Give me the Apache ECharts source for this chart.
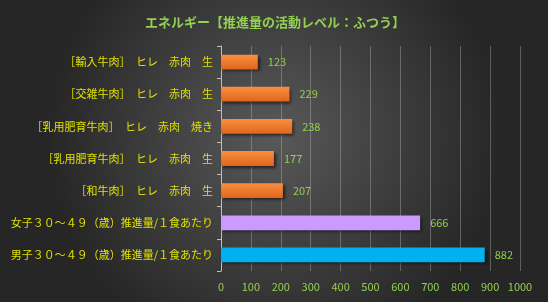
<!DOCTYPE html>
<html><head><meta charset="utf-8">
<script src="https://cdn.jsdelivr.net/npm/echarts@6/dist/echarts.min.js"></script>
<style>html,body{margin:0;padding:0;background:#3a3a3a;}#c{width:548px;height:302px;}</style>
</head><body><div id="c"></div>
<script>
var titleText = 'エネルギー【推進量の活動レベル：ふつう】';
var categories = [
  '［輸入牛肉］　ヒレ　赤肉　生',
  '［交雑牛肉］　ヒレ　赤肉　生',
  '［乳用肥育牛肉］　ヒレ　赤肉　焼き',
  '［乳用肥育牛肉］　ヒレ　赤肉　生',
  '［和牛肉］　ヒレ　赤肉　生',
  '女子３０～４９（歳）推進量/１食あたり',
  '男子３０～４９（歳）推進量/１食あたり'
];
var values = [123, 229, 238, 177, 207, 666, 882];
var xMin = 0, xMax = 1000, xStep = 100;

var orange = new echarts.graphic.LinearGradient(0,0,0,1,[{offset:0,color:'#f79040'},{offset:1,color:'#e2651c'}]);
var colors = [orange, orange, orange, orange, orange, '#cc99ff', '#00b0f0'];

var chart = echarts.init(document.getElementById('c'), null, {renderer:'canvas'});
chart.setOption({
  backgroundColor: new echarts.graphic.RadialGradient(0.5,0.45,0.75,[{offset:0,color:'#595959'},{offset:1,color:'#262626'}]),
  title: {text: titleText, left: 270, textAlign: 'center', top: 11,
    textStyle: {color:'#92d050', fontSize: 13, fontWeight:'bold', fontFamily:'Noto Sans CJK JP'}},
  grid: {left: 221, right: 28, top: 46, bottom: 31},
  xAxis: {type:'value', min:xMin, max:xMax, interval:xStep,
    axisLine:{show:false}, axisTick:{show:false},
    axisLabel:{color:'#92d050', fontSize:11, margin:10, fontFamily:'Noto Sans CJK JP',
      formatter:function(v){return String(v);}},
    splitLine:{show:true, lineStyle:{color:'rgba(200,200,200,0.35)', width:1}}},
  yAxis: {type:'category', data:categories, inverse:true,
    axisLine:{show:true, lineStyle:{color:'#bfbfbf', width:1}},
    axisTick:{show:true, length:4, lineStyle:{color:'#bfbfbf'}},
    axisLabel:{color:'#e0e000', fontSize:11, margin:8, fontFamily:'Noto Sans CJK JP'}},
  series: [{type:'bar', data: values.map(function(v,i){return {value:v, itemStyle:{color:colors[i]}};}),
    barWidth: '46%',
    itemStyle:{shadowColor:'rgba(0,0,0,0.6)', shadowBlur:3, shadowOffsetX:2, shadowOffsetY:2},
    label:{show:true, position:'right', distance:10, color:'#92d050', fontSize:11, fontFamily:'Noto Sans CJK JP'}}]
});
</script></body></html>
